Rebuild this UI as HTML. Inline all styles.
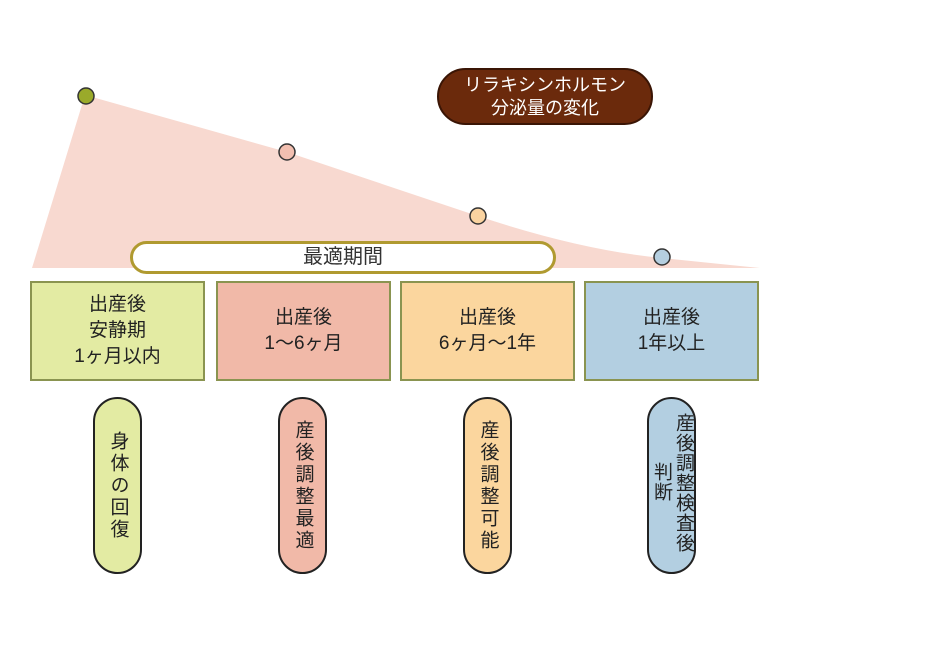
<!DOCTYPE html>
<html><head><meta charset="utf-8"><style>
body{margin:0;width:951px;height:654px;background:#fff;position:relative;overflow:hidden;font-family:"Liberation Sans","Noto Sans CJK JP",sans-serif;color:#222}
.a{position:absolute;box-sizing:border-box}
.box{top:281px;height:100px;width:175px;border:2px solid #8a9450;display:flex;align-items:center;justify-content:center;text-align:center;font-size:19px;line-height:26px}
.pill{top:397px;height:177px;width:49px;border:2px solid #222;border-radius:25px;display:flex;justify-content:center;align-items:center;font-size:19px;line-height:20px}
.v{writing-mode:vertical-rl;letter-spacing:3px}
</style></head><body>
<svg class="a" style="left:0;top:0" width="951" height="654">
<path d="M32,268 L85,95 L287,152 Q400,190 478,216 Q580,250 662,258 Q720,264 760,268 Z" fill="#f8d9d0"/>
<circle cx="86" cy="96" r="8" fill="#9aaa2a" stroke="#333" stroke-width="1.5"/>
<circle cx="287" cy="152" r="8" fill="#f2bfb0" stroke="#333" stroke-width="1.5"/>
<circle cx="478" cy="216" r="8" fill="#fad3a0" stroke="#333" stroke-width="1.5"/>
<circle cx="662" cy="257" r="8" fill="#b5cfe0" stroke="#333" stroke-width="1.5"/>
</svg>
<div class="a" style="left:437px;top:68px;width:216px;height:57px;border-radius:29px;background:#6b2a0c;border:2px solid #3a1505;color:#fff;font-size:18px;line-height:23px;text-align:center;padding-top:4px">リラキシンホルモン<br>分泌量の変化</div>
<div class="a" style="left:130px;top:241px;width:426px;height:33px;border-radius:17px;background:#fff;border:3px solid #b09a30;font-size:20px;line-height:27px;text-align:center;color:#333">最適期間</div>
<div class="a box" style="left:30px;background:#e3eba3">出産後<br>安静期<br>1ヶ月以内</div>
<div class="a box" style="left:216px;background:#f1b9a8">出産後<br>1～6ヶ月</div>
<div class="a box" style="left:400px;background:#fbd69e">出産後<br>6ヶ月～1年</div>
<div class="a box" style="left:584px;background:#b3cfe1">出産後<br>1年以上</div>
<div class="a pill" style="left:93px;background:#e3eba3"><span class="v">身体の回復</span></div>
<div class="a pill" style="left:278px;background:#f1b9a8"><span class="v">産後調整最適</span></div>
<div class="a pill" style="left:463px;background:#fbd69e"><span class="v">産後調整可能</span></div>
<div class="a pill" style="left:647px;background:#b3cfe1"></div>
<div class="a v" style="left:673px;top:413px;font-size:19px;line-height:20px;letter-spacing:1px">産後調整検査後</div>
<div class="a v" style="left:651px;top:462px;font-size:19px;line-height:20px;letter-spacing:1px">判断</div>
</body></html>
